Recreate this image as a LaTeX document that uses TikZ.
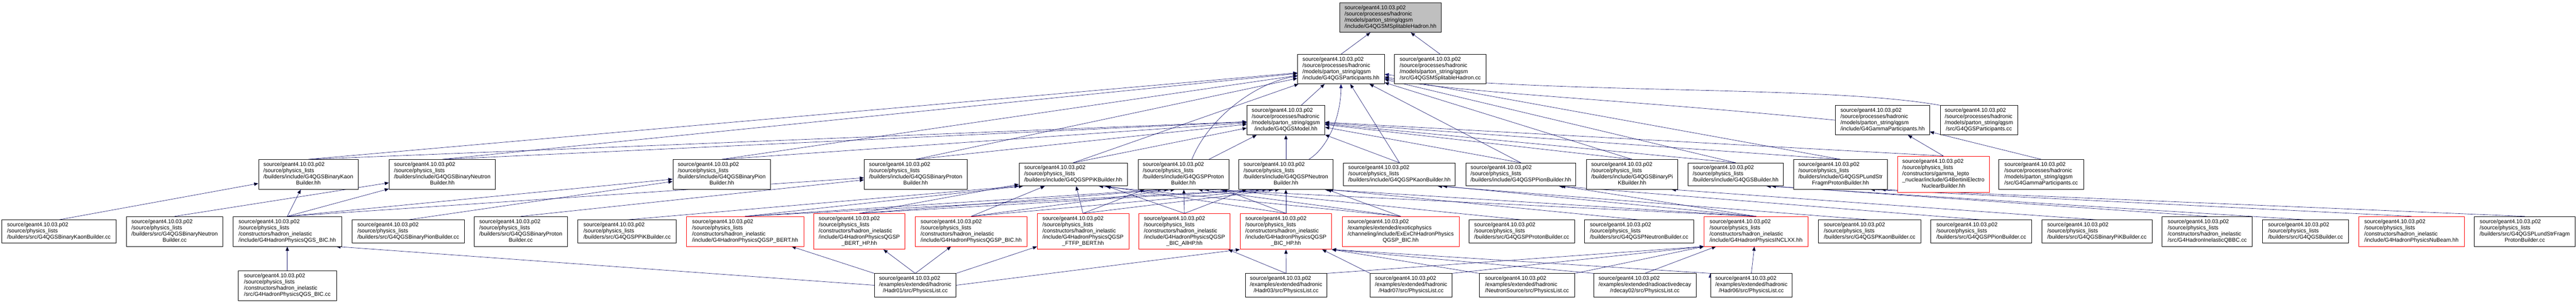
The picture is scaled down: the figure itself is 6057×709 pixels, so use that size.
\documentclass[tikz,border=0pt]{standalone}
\usepackage{fontspec}
\setmainfont{Liberation Sans}
\usetikzlibrary{arrows.meta,backgrounds}

\definecolor{edgeblue}{RGB}{25,25,112}
\definecolor{hdrgray}{RGB}{191,191,191}

% left aligned lines, last line centred (as doxygen does)
\newcommand{\flab}[2]{\begin{tabular}{@{}l@{}}#1\\\multicolumn{1}{@{}c@{}}{#2}\end{tabular}}

\tikzset{
  file/.style={draw=black, fill=white, rectangle, inner sep=0pt, line width=0.9pt,
    font=\fontsize{13}{14.5}\selectfont},
  redfile/.style={file, draw=red},
  dep/.style={draw=edgeblue, line width=0.8pt, -{Triangle[length=10pt,width=8pt]}},
}

\begin{document}
\begin{tikzpicture}[x=1pt,y=-1pt]
  \useasboundingbox (0,0) rectangle (6057,709);

  % rank 0 and 1
  \node[file, fill=hdrgray, minimum width=239, minimum height=69] (shH) at (3269.5,41.5)
    {\flab{source/geant4.10.03.p02\\/source/processes/hadronic\\/models/parton\_string/qgsm}{/include/G4QGSMSplitableHadron.hh}};
  \node[file, minimum width=204, minimum height=69] (partH) at (3153,162.5)
    {\flab{source/geant4.10.03.p02\\/source/processes/hadronic\\/models/parton\_string/qgsm}{/include/G4QGSParticipants.hh}};
  \node[file, minimum width=215, minimum height=69] (shCC) at (3386.5,162.5)
    {\flab{source/geant4.10.03.p02\\/source/processes/hadronic\\/models/parton\_string/qgsm}{/src/G4QGSMSplitableHadron.cc}};

  % rank 2
  \node[file, minimum width=183, minimum height=69] (modelH) at (3023.5,282.5)
    {\flab{source/geant4.10.03.p02\\/source/processes/hadronic\\/models/parton\_string/qgsm}{/include/G4QGSModel.hh}};
  \node[file, minimum width=221, minimum height=69] (gammaH) at (4426.5,282.5)
    {\flab{source/geant4.10.03.p02\\/source/processes/hadronic\\/models/parton\_string/qgsm}{/include/G4GammaParticipants.hh}};
  \node[file, minimum width=182, minimum height=69] (partCC) at (4653,282.5)
    {\flab{source/geant4.10.03.p02\\/source/processes/hadronic\\/models/parton\_string/qgsm}{/src/G4QGSParticipants.cc}};

  % rank 3: builder headers
  \node[file, minimum width=234, minimum height=70] (bkaonH) at (725,410)
    {\flab{source/geant4.10.03.p02\\/source/physics\_lists\\/builders/include/G4QGSBinaryKaon}{Builder.hh}};
  \node[file, minimum width=250, minimum height=70] (bneutH) at (1040,410)
    {\flab{source/geant4.10.03.p02\\/source/physics\_lists\\/builders/include/G4QGSBinaryNeutron}{Builder.hh}};
  \node[file, minimum width=230, minimum height=70] (bpionH) at (1697,410)
    {\flab{source/geant4.10.03.p02\\/source/physics\_lists\\/builders/include/G4QGSBinaryPion}{Builder.hh}};
  \node[file, minimum width=242, minimum height=70] (bprotH) at (2153,410)
    {\flab{source/geant4.10.03.p02\\/source/physics\_lists\\/builders/include/G4QGSBinaryProton}{Builder.hh}};
  \node[file, minimum width=255, minimum height=54] (ppikH) at (2523.5,410)
    {\flab{source/geant4.10.03.p02\\/source/physics\_lists}{/builders/include/G4QGSPPiKBuilder.hh}};
  \node[file, minimum width=213, minimum height=70] (pprotH) at (2782.5,410)
    {\flab{source/geant4.10.03.p02\\/source/physics\_lists\\/builders/include/G4QGSPProton}{Builder.hh}};
  \node[file, minimum width=221, minimum height=70] (pneutH) at (3023.5,410)
    {\flab{source/geant4.10.03.p02\\/source/physics\_lists\\/builders/include/G4QGSPNeutron}{Builder.hh}};
  \node[file, minimum width=263, minimum height=54] (pkaonH) at (3290.5,410)
    {\flab{source/geant4.10.03.p02\\/source/physics\_lists}{/builders/include/G4QGSPKaonBuilder.hh}};
  \node[file, minimum width=258, minimum height=54] (ppionH) at (3576,410)
    {\flab{source/geant4.10.03.p02\\/source/physics\_lists}{/builders/include/G4QGSPPionBuilder.hh}};
  \node[file, minimum width=215, minimum height=70] (bpikH) at (3837.5,410)
    {\flab{source/geant4.10.03.p02\\/source/physics\_lists\\/builders/include/G4QGSBinaryPi}{KBuilder.hh}};
  \node[file, minimum width=224, minimum height=54] (qgsbH) at (4081,410)
    {\flab{source/geant4.10.03.p02\\/source/physics\_lists}{/builders/include/G4QGSBuilder.hh}};
  \node[file, minimum width=221, minimum height=70] (lundH) at (4327.5,410)
    {\flab{source/geant4.10.03.p02\\/source/physics\_lists\\/builders/include/G4QGSPLundStr}{FragmProtonBuilder.hh}};
  \node[redfile, minimum width=215, minimum height=85] (bertH) at (4569.5,409.5)
    {\flab{source/geant4.10.03.p02\\/source/physics\_lists\\/constructors/gamma\_lepto\\\_nuclear/include/G4BertiniElectro}{NuclearBuilder.hh}};
  \node[file, minimum width=199, minimum height=70] (gammaCC) at (4799.5,410)
    {\flab{source/geant4.10.03.p02\\/source/processes/hadronic\\/models/parton\_string/qgsm}{/src/G4GammaParticipants.cc}};

  % rank 4: builder sources and physics constructors
  \node[file, minimum width=269, minimum height=54] (bkaonCC) at (138.5,544)
    {\flab{source/geant4.10.03.p02\\/source/physics\_lists}{/builders/src/G4QGSBinaryKaonBuilder.cc}};
  \node[file, minimum width=227, minimum height=70] (bneutCC) at (410.5,544)
    {\flab{source/geant4.10.03.p02\\/source/physics\_lists\\/builders/src/G4QGSBinaryNeutron}{Builder.cc}};
  \node[file, minimum width=255, minimum height=70] (qgsbicH) at (675.5,544)
    {\flab{source/geant4.10.03.p02\\/source/physics\_lists\\/constructors/hadron\_inelastic}{/include/G4HadronPhysicsQGS\_BIC.hh}};
  \node[file, minimum width=264, minimum height=54] (bpionCC) at (960,544)
    {\flab{source/geant4.10.03.p02\\/source/physics\_lists}{/builders/src/G4QGSBinaryPionBuilder.cc}};
  \node[file, minimum width=219, minimum height=70] (bprotCC) at (1224.5,544)
    {\flab{source/geant4.10.03.p02\\/source/physics\_lists\\/builders/src/G4QGSBinaryProton}{Builder.cc}};
  \node[file, minimum width=231, minimum height=54] (ppikCC) at (1474.5,544)
    {\flab{source/geant4.10.03.p02\\/source/physics\_lists}{/builders/src/G4QGSPPiKBuilder.cc}};
  \node[redfile, minimum width=276, minimum height=70] (qbertH) at (1752,544)
    {\flab{source/geant4.10.03.p02\\/source/physics\_lists\\/constructors/hadron\_inelastic}{/include/G4HadronPhysicsQGSP\_BERT.hh}};
  \node[redfile, minimum width=215, minimum height=84] (qberthpH) at (2020.5,544)
    {\flab{source/geant4.10.03.p02\\/source/physics\_lists\\/constructors/hadron\_inelastic\\/include/G4HadronPhysicsQGSP}{\_BERT\_HP.hh}};
  \node[redfile, minimum width=263, minimum height=70] (qbicH) at (2283.5,544)
    {\flab{source/geant4.10.03.p02\\/source/physics\_lists\\/constructors/hadron\_inelastic}{/include/G4HadronPhysicsQGSP\_BIC.hh}};
  \node[redfile, minimum width=215, minimum height=84] (qftfpH) at (2546.5,544)
    {\flab{source/geant4.10.03.p02\\/source/physics\_lists\\/constructors/hadron\_inelastic\\/include/G4HadronPhysicsQGSP}{\_FTFP\_BERT.hh}};
  \node[redfile, minimum width=214, minimum height=84] (qallhpH) at (2785,544)
    {\flab{source/geant4.10.03.p02\\/source/physics\_lists\\/constructors/hadron\_inelastic\\/include/G4HadronPhysicsQGSP}{\_BIC\_AllHP.hh}};
  \node[redfile, minimum width=215, minimum height=84] (qbichpH) at (3023.5,544)
    {\flab{source/geant4.10.03.p02\\/source/physics\_lists\\/constructors/hadron\_inelastic\\/include/G4HadronPhysicsQGSP}{\_BIC\_HP.hh}};
  \node[redfile, minimum width=275, minimum height=70] (exexH) at (3293.5,544)
    {\flab{source/geant4.10.03.p02\\/examples/extended/exoticphysics\\/channeling/include/ExExChHadronPhysics}{QGSP\_BIC.hh}};
  \node[file, minimum width=248, minimum height=54] (pprotCC) at (3578,544)
    {\flab{source/geant4.10.03.p02\\/source/physics\_lists}{/builders/src/G4QGSPProtonBuilder.cc}};
  \node[file, minimum width=256, minimum height=54] (pneutCC) at (3854,544)
    {\flab{source/geant4.10.03.p02\\/source/physics\_lists}{/builders/src/G4QGSPNeutronBuilder.cc}};
  \node[redfile, minimum width=244, minimum height=70] (inclH) at (4129,544)
    {\flab{source/geant4.10.03.p02\\/source/physics\_lists\\/constructors/hadron\_inelastic}{/include/G4HadronPhysicsINCLXX.hh}};
  \node[file, minimum width=240, minimum height=54] (pkaonCC) at (4396,544)
    {\flab{source/geant4.10.03.p02\\/source/physics\_lists}{/builders/src/G4QGSPKaonBuilder.cc}};
  \node[file, minimum width=237, minimum height=54] (ppionCC) at (4658.5,544)
    {\flab{source/geant4.10.03.p02\\/source/physics\_lists}{/builders/src/G4QGSPPionBuilder.cc}};
  \node[file, minimum width=259, minimum height=54] (bpikCC) at (4930.5,544)
    {\flab{source/geant4.10.03.p02\\/source/physics\_lists}{/builders/src/G4QGSBinaryPiKBuilder.cc}};
  \node[file, minimum width=212, minimum height=70] (qbbcCC) at (5190,544)
    {\flab{source/geant4.10.03.p02\\/source/physics\_lists\\/constructors/hadron\_inelastic}{/src/G4HadronInelasticQBBC.cc}};
  \node[file, minimum width=202, minimum height=54] (qgsbCC) at (5421,544)
    {\flab{source/geant4.10.03.p02\\/source/physics\_lists}{/builders/src/G4QGSBuilder.cc}};
  \node[redfile, minimum width=248, minimum height=70] (nubeamH) at (5670,544)
    {\flab{source/geant4.10.03.p02\\/source/physics\_lists\\/constructors/hadron\_inelastic}{/include/G4HadronPhysicsNuBeam.hh}};
  \node[file, minimum width=237, minimum height=70] (lundCC) at (5936.5,544)
    {\flab{source/geant4.10.03.p02\\/source/physics\_lists\\/builders/src/G4QGSPLundStrFragm}{ProtonBuilder.cc}};

  % rank 5: physics lists of the examples
  \node[file, minimum width=231, minimum height=71] (qgsbicCC) at (675.5,671.5)
    {\flab{source/geant4.10.03.p02\\/source/physics\_lists\\/constructors/hadron\_inelastic}{/src/G4HadronPhysicsQGS\_BIC.cc}};
  \node[file, minimum width=192, minimum height=55] (hadr01) at (2152,670.5)
    {\flab{source/geant4.10.03.p02\\/examples/extended/hadronic}{/Hadr01/src/PhysicsList.cc}};
  \node[file, minimum width=192, minimum height=55] (hadr03) at (3024,670.5)
    {\flab{source/geant4.10.03.p02\\/examples/extended/hadronic}{/Hadr03/src/PhysicsList.cc}};
  \node[file, minimum width=192, minimum height=55] (hadr07) at (3318,670.5)
    {\flab{source/geant4.10.03.p02\\/examples/extended/hadronic}{/Hadr07/src/PhysicsList.cc}};
  \node[file, minimum width=225, minimum height=55] (nsrc) at (3590.5,670.5)
    {\flab{source/geant4.10.03.p02\\/examples/extended/hadronic}{/NeutronSource/src/PhysicsList.cc}};
  \node[file, minimum width=241, minimum height=55] (rdecay) at (3867.5,670.5)
    {\flab{source/geant4.10.03.p02\\/examples/extended/radioactivedecay}{/rdecay02/src/PhysicsList.cc}};
  \node[file, minimum width=192, minimum height=55] (hadr06) at (4118,670.5)
    {\flab{source/geant4.10.03.p02\\/examples/extended/hadronic}{/Hadr06/src/PhysicsList.cc}};

  \begin{scope}[on background layer]
    % qgsm headers
    \path[dep]
      (partH.north) edge (shH)
      (shCC.north) edge (shH)
      ([xshift=36pt]modelH.north) edge (partH);
    \draw[dep] ([xshift=20pt]pprotH.north) .. controls (2840,280) and (2950,195) .. (partH);
    \draw[dep] ([xshift=54pt]pneutH.north) .. controls (3125,345) and (3153,270) .. (partH.south);
    \draw[dep] (gammaH.west) .. controls (3800,232) and (3420,218) .. (partH);
    \draw[dep] (partCC.north west) .. controls (4300,200) and (3650,222) .. (partH);

    % builder headers
    \path[dep]
      (bkaonH.north) edge (partH) edge (modelH)
      (bneutH.north) edge (partH) edge (modelH)
      (bpionH.north) edge (partH) edge (modelH)
      (bprotH.north) edge (partH) edge (modelH)
      (ppikH.north) edge (partH) edge (modelH)
      ([xshift=60pt]pprotH.north) edge (modelH)
      (pneutH.north) edge (modelH)
      (pkaonH.north) edge (partH) edge (modelH)
      (ppionH.north) edge (partH) edge (modelH)
      (bpikH.north) edge (partH) edge (modelH)
      (qgsbH.north) edge (partH) edge (modelH)
      (lundH.north) edge (partH) edge (modelH)
      (bertH.north) edge (modelH) edge (gammaH)
      (gammaCC.north) edge (gammaH);

    % builder sources
    \path[dep]
      (bkaonCC.north) edge (bkaonH)
      (bneutCC.north) edge (bneutH)
      (bpionCC.north) edge (bpionH)
      (bprotCC.north) edge (bprotH)
      (ppikCC.north) edge (ppikH.south west)
      (pprotCC.north) edge ([xshift=-20pt]pprotH.south east)
      (pneutCC.north) edge ([xshift=-10pt]pneutH.south east)
      (pkaonCC.north) edge ([xshift=-42pt]pkaonH.south east)
      (ppionCC.north) edge ([xshift=-40pt]ppionH.south east)
      (bpikCC.north) edge ([xshift=-15pt]bpikH.south east)
      (qgsbCC.north) edge ([xshift=-40pt]qgsbH.south east)
      (qbbcCC.north) edge ([xshift=-28pt]qgsbH.south east)
      (lundCC.north) edge ([xshift=-15pt]lundH.south east)
      (nubeamH.north) edge ([xshift=-40pt]lundH.south east);

    % physics constructors
    \path[dep]
      (qgsbicH.north) edge (bkaonH) edge (bneutH) edge (bpionH) edge (bprotH)
      (qbertH.north) edge ([xshift=10pt]ppikH.south west) edge ([xshift=-50pt]pprotH.south) edge ([xshift=-60pt]pneutH.south)
      (qberthpH.north) edge (ppikH) edge ([xshift=-35pt]pprotH.south) edge ([xshift=-45pt]pneutH.south)
      (qbicH.north) edge (ppikH) edge ([xshift=-20pt]pprotH.south) edge ([xshift=-30pt]pneutH.south)
      (qftfpH.north) edge (ppikH) edge (pprotH) edge ([xshift=-15pt]pneutH.south)
      (qallhpH.north) edge (ppikH) edge (pprotH) edge (pneutH)
      (qbichpH.north) edge ([xshift=75pt]ppikH.south) edge (pprotH) edge (pneutH)
      (exexH.north) edge ([xshift=60pt]ppikH.south) edge ([xshift=35pt]pprotH.south) edge (pneutH)
      (inclH.north) edge ([xshift=50pt]pprotH.south) edge ([xshift=-20pt]pneutH.south east)
        edge ([xshift=-30pt]pkaonH.south east) edge ([xshift=-35pt]ppionH.south east);

    % example physics lists
    \path[dep]
      (qgsbicCC.north) edge (qgsbicH)
      (hadr01.west) edge ([xshift=-13pt]qgsbicH.south east)
      (hadr01.north west) edge (qbertH)
      (hadr01.north) edge (qberthpH) edge (qbicH)
      (hadr01.north east) edge (qftfpH)
      (hadr01.east) edge (qbichpH.south west)
      (hadr03.north) edge (qbichpH) edge (qallhpH)
      (hadr03.north east) edge (inclH.south west)
      (hadr07.north west) edge (qbichpH)
      (hadr07.north east) edge (inclH.south west)
      (nsrc.north west) edge (qbichpH.south east)
      (nsrc.north east) edge (inclH.south west)
      (rdecay.north west) edge (qbichpH.south east)
      (rdecay.north) edge (inclH)
      (hadr06.north) edge (inclH)
      (hadr06.north west) edge (qbichpH.south east);
  \end{scope}
\end{tikzpicture}
\end{document}
